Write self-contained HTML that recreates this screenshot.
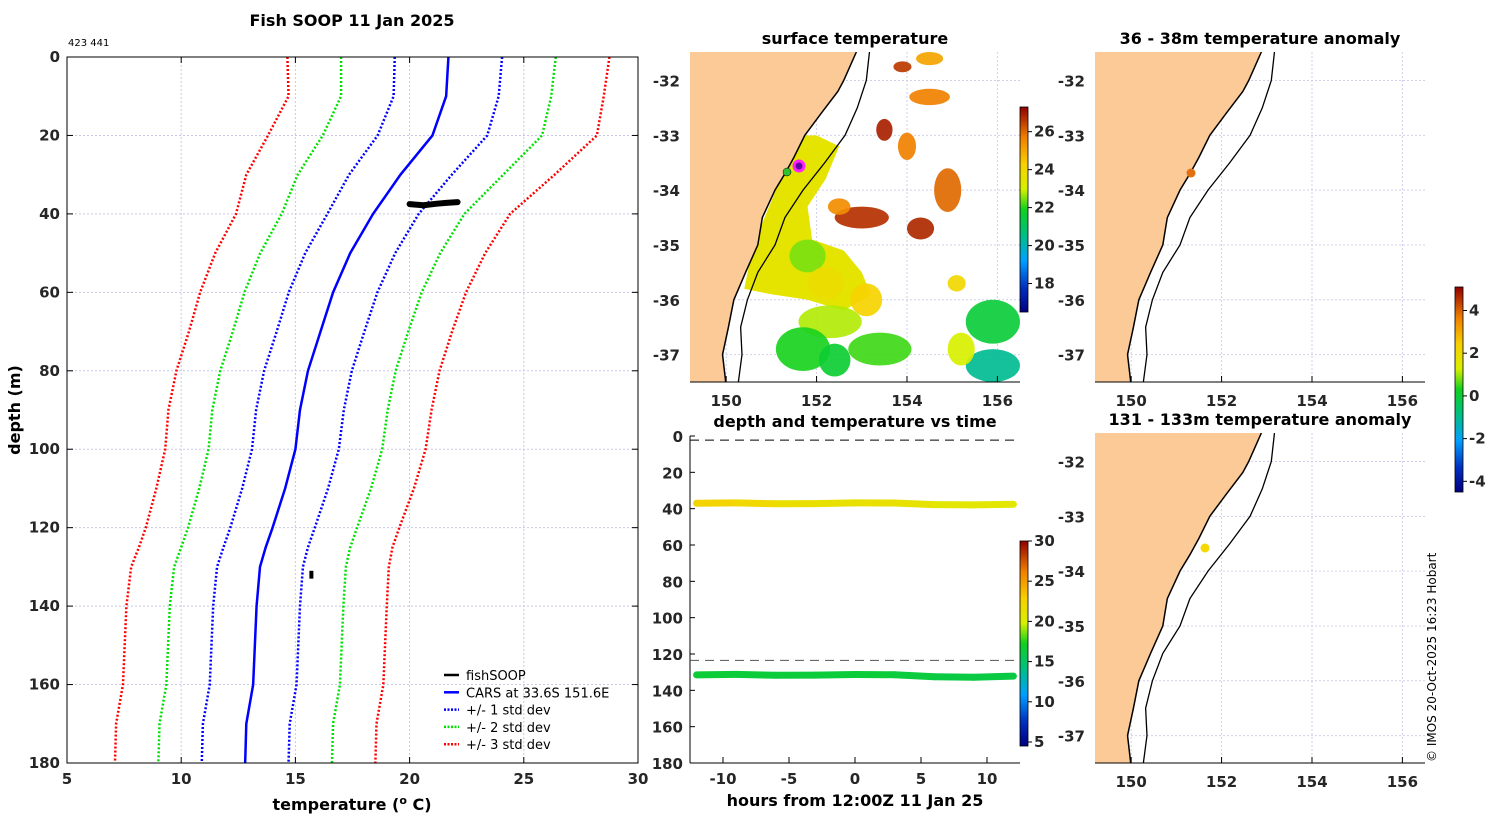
<!DOCTYPE html>
<html><head><meta charset="utf-8"><style>
body{margin:0;background:#fff;}
svg{display:block;font-family:"DejaVu Sans","Liberation Sans",sans-serif;}
.tk{font-size:15px;font-weight:bold;fill:#262626;}
.tt{font-size:16px;font-weight:bold;fill:#000;}
.lg{font-size:13px;fill:#000;}
</style></head><body>
<svg id="fig" width="1500" height="820" viewBox="0 0 1500 820">
<defs>
<linearGradient id="jet" x1="0" y1="1" x2="0" y2="0">
<stop offset="0" stop-color="#00007f"/><stop offset="0.12" stop-color="#0030c0"/><stop offset="0.25" stop-color="#00a0ff"/>
<stop offset="0.38" stop-color="#00c080"/><stop offset="0.5" stop-color="#10d020"/><stop offset="0.6" stop-color="#d8f000"/>
<stop offset="0.72" stop-color="#f8d000"/><stop offset="0.85" stop-color="#f08000"/><stop offset="1" stop-color="#900000"/>
</linearGradient>
<clipPath id="c1"><rect x="690" y="52" width="330" height="330"/></clipPath>
<clipPath id="c2"><rect x="1095" y="52" width="330" height="330"/></clipPath>
<clipPath id="c3"><rect x="1095" y="433" width="330" height="330"/></clipPath>
</defs>
<text class="tt" x="352" y="26" text-anchor="middle">Fish SOOP 11 Jan 2025</text>
<text x="68" y="46" font-size="10">423 441</text>
<g id="prof"></g>
<g id="maps"></g>
<g id="dt"></g>
<text x="0" y="0" font-size="12" transform="translate(1436,762) rotate(-90)">© IMOS 20-Oct-2025 16:23 Hobart</text>
</svg>
<script>
const depths=[0,10,20,30,40,50,60,70,80,90,100,110,120,125,130,140,160,170,180];
const carsMean=[21.7,21.6,21.0,19.6,18.4,17.4,16.65,16.1,15.55,15.2,15.0,14.55,14.0,13.7,13.45,13.3,13.15,12.85,12.8];
const carsStd=[2.35,2.3,2.4,2.25,2.0,1.97,1.94,1.92,1.92,1.92,1.9,1.88,1.85,1.85,1.88,1.9,1.9,1.9,1.9];
const fishTemp=[20.0,20.6,21.2,21.6,22.1];
const fishDepth=[37.5,37.8,37.4,37.2,37.0];
const fish2Temp=[15.7,15.7];
const fish2Depth=[131,133];
const tempTicks=[5,10,15,20,25,30];
const depthTicks=[0,20,40,60,80,100,120,140,160,180];
const hourTicks=[-10,-5,0,5,10];
const hours=[-12,-9,-6,-3,0,3,6,9,12];
const shallowDepth=[37,36.8,37.3,37.2,36.8,36.9,37.8,37.9,37.6];
const shallowTemp=[22.5,22.4,21.8,21.3,21.4,21.5,20.9,20.7,20.8];
const deepDepth=[131.5,131.2,131.7,131.6,131.3,131.4,132.5,132.8,132.2];
const deepTemp=[16.5,16.5,16.4,16.4,16.5,16.4,16.2,16.1,16.2];
const lonTicks=[150,152,154,156];
const latTicks=[-32,-33,-34,-35,-36,-37];
const coastLat=[-31.48,-32.0,-32.2,-32.6,-33.0,-33.4,-33.7,-34.0,-34.5,-35.0,-35.5,-36.0,-36.5,-37.0,-37.5];
const coastLon=[152.88,152.6,152.47,152.1,151.74,151.5,151.3,151.08,150.8,150.7,150.43,150.17,150.05,149.92,149.99];
const isoLat=[-31.48,-32.0,-32.5,-33.0,-33.5,-34.0,-34.5,-35.0,-35.5,-36.0,-36.5,-37.0,-37.5];
const isoLon=[153.17,153.1,152.9,152.63,152.18,151.7,151.3,151.08,150.7,150.47,150.32,150.35,150.27];
const NS='http://www.w3.org/2000/svg';
function mk(p,t,a,txt){const e=document.createElementNS(NS,t);for(const k in a)e.setAttribute(k,a[k]);if(txt!==undefined)e.textContent=txt;p.appendChild(e);return e;}
function jet(v,lo,hi){const t=Math.max(0,Math.min(1,(v-lo)/(hi-lo)));const s=[[0,0,0,127],[.12,0,48,192],[.25,0,160,255],[.38,0,192,128],[.5,16,208,32],[.6,216,240,0],[.72,248,208,0],[.85,240,128,0],[1,144,0,0]];for(let i=1;i<s.length;i++){if(t<=s[i][0]){const f=(t-s[i-1][0])/(s[i][0]-s[i-1][0]);return 'rgb('+[1,2,3].map(j=>Math.round(s[i-1][j]+f*(s[i][j]-s[i-1][j]))).join(',')+')';}}return 'rgb(144,0,0)';}
// ---- profile plot
const P=document.getElementById('prof');
const px=t=>67+(t-5)*(571/25), py=d=>57+d*(706/180);
for(const t of tempTicks){const g=mk(P,'line',{x1:px(t),x2:px(t),y1:57,y2:763,stroke:'#c8c8e8','stroke-dasharray':'2,2','stroke-width':1});}
for(const d of depthTicks){const g=mk(P,'line',{x1:67,x2:638,y1:py(d),y2:py(d),stroke:'#c8c8e8','stroke-dasharray':'2,2','stroke-width':1});}
const bands=[[-3,'#ff0000','minus-3-std'],[-2,'#00e000','minus-2-std'],[-1,'#0000ff','minus-1-std'],[1,'#0000ff','plus-1-std'],[2,'#00e000','plus-2-std'],[3,'#ff0000','plus-3-std']];
for(const [k,c,n] of bands){const l=mk(P,'polyline',{points:depths.map((d,i)=>px(carsMean[i]+k*carsStd[i])+','+py(d)).join(' '),fill:'none',stroke:c,'stroke-width':2.5,'stroke-dasharray':'2,2'});}
const ml=mk(P,'polyline',{points:depths.map((d,i)=>px(carsMean[i])+','+py(d)).join(' '),fill:'none',stroke:'#0000ff','stroke-width':2.5});

const f1=mk(P,'polyline',{points:fishTemp.map((t,i)=>px(t)+','+py(fishDepth[i])).join(' '),fill:'none',stroke:'#000','stroke-width':6,'stroke-linecap':'round','stroke-linejoin':'round'});

const f2=mk(P,'polyline',{points:fish2Temp.map((t,i)=>px(t)+','+py(fish2Depth[i])).join(' '),fill:'none',stroke:'#000','stroke-width':4});

const fr=mk(P,'rect',{x:67,y:57,width:571,height:706,fill:'none',stroke:'#000','stroke-width':1});

for(const t of tempTicks){mk(P,'line',{x1:px(t),x2:px(t),y1:763,y2:757,stroke:'#000'});mk(P,'line',{x1:px(t),x2:px(t),y1:57,y2:63,stroke:'#000'});const l=mk(P,'text',{x:px(t),y:784,class:'tk','text-anchor':'middle'},t);}
for(const d of depthTicks){mk(P,'line',{x1:67,x2:73,y1:py(d),y2:py(d),stroke:'#000'});mk(P,'line',{x1:638,x2:632,y1:py(d),y2:py(d),stroke:'#000'});const l=mk(P,'text',{x:60,y:py(d)+5,class:'tk','text-anchor':'end'},d);}
const xt=mk(P,'text',{x:352,y:810,class:'tt','text-anchor':'middle'});xt.innerHTML='temperature (<tspan font-size="11" dy="-6">o</tspan><tspan dy="6"> C)</tspan>';

const yt=mk(P,'text',{class:'tt','text-anchor':'middle',transform:'translate(20,410) rotate(-90)'},'depth (m)');

const leg=[['fishSOOP','#000',''],['CARS at 33.6S 151.6E','#0000ff',''],['+/- 1 std dev','#0000ff','2,1.5'],['+/- 2 std dev','#00e000','2,1.5'],['+/- 3 std dev','#ff0000','2,1.5']];
leg.forEach((e,i)=>{const y=675+i*17.3;const g=mk(P,'g',{});
mk(g,'line',{x1:444,x2:459,y1:y,y2:y,stroke:e[1],'stroke-width':2.5,'stroke-dasharray':e[2]});mk(g,'text',{x:466,y:y+5,class:'lg'},e[0]);});
// ---- maps
const M=document.getElementById('maps');
function map(x0,y0,title,clip,name){
const g=mk(M,'g',{});
const lx=l=>x0+(l-149.2)*(330/7.3), ly=a=>y0+(-31.48-a)*(330/6.02);
for(const l of lonTicks){mk(g,'line',{x1:lx(l),x2:lx(l),y1:y0,y2:y0+330,stroke:'#d0d0ea','stroke-dasharray':'2,2'});}
for(const a of latTicks){mk(g,'line',{x1:x0,x2:x0+330,y1:ly(a),y2:ly(a),stroke:'#d0d0ea','stroke-dasharray':'2,2'});}
const cg=mk(g,'g',{'clip-path':'url(#'+clip+')'});
g._cg=cg;g._lx=lx;g._ly=ly;
g._land=function(){
let pts=coastLon.map((l,i)=>lx(l)+','+ly(coastLat[i]));
const land=mk(cg,'polygon',{points:x0+','+(y0-2)+' '+pts.join(' ')+' '+x0+','+(y0+332),fill:'#fbca96'});

mk(cg,'polyline',{points:pts.join(' '),fill:'none',stroke:'#000','stroke-width':1.5});
const iso=mk(cg,'polyline',{points:isoLon.map((l,i)=>lx(l)+','+ly(isoLat[i])).join(' '),fill:'none',stroke:'#000','stroke-width':1.3});

mk(g,'line',{x1:x0,x2:x0+330,y1:y0+330,y2:y0+330,stroke:'#000'});
for(const l of lonTicks){mk(g,'line',{x1:lx(l),x2:lx(l),y1:y0+330,y2:y0+324,stroke:'#000'});const t=mk(g,'text',{x:lx(l),y:y0+354,class:'tk','text-anchor':'middle'},l);}
for(const a of latTicks){const t=mk(g,'text',{x:x0-10,y:ly(a)+6,class:'tk','text-anchor':'end'},a);}
const tt=mk(g,'text',{x:x0+165,y:y0-8,class:'tt','text-anchor':'middle'},title);
};
return g;}
const m1=map(690,52,'surface temperature','c1','sst-map');
// coastal warm band polygon [lon,lat]
const bandLon=[151.4,152.0,152.5,152.2,151.8,151.9,152.6,153.0,153.2,152.6,151.8,151.0,150.4,150.6,151.0,151.3];
const bandLat=[-33.0,-33.0,-33.2,-33.8,-34.3,-34.9,-35.1,-35.5,-35.9,-36.2,-36.0,-35.9,-35.8,-35.0,-34.2,-33.6];
mk(m1._cg,'polygon',{points:bandLon.map((l,i)=>m1._lx(l)+','+m1._ly(bandLat[i])).join(' '),fill:jet(23.3,16.5,27)});
// SST blobs [lon,lat,rx(deg),ry(deg),temp]
const blobs=[[151.8,-35.2,0.4,0.3,22.3],[152.2,-35.7,0.4,0.3,23.6],[153.1,-36.0,0.35,0.3,24.0],[152.3,-36.4,0.7,0.3,22.6],[151.7,-36.9,0.6,0.4,21.8],[152.4,-37.1,0.35,0.3,21.5],[153.4,-36.9,0.7,0.3,22.0],[155.9,-36.4,0.6,0.4,21.4],[155.9,-37.2,0.6,0.3,20.3],[155.2,-36.9,0.3,0.3,22.8],[153.0,-34.5,0.6,0.2,26.4],[152.5,-34.3,0.25,0.15,25.2],[154.9,-34.0,0.3,0.4,25.7],[153.5,-32.9,0.18,0.2,26.6],[154.5,-32.3,0.45,0.15,25.4],[154.0,-33.2,0.2,0.25,25.4],[153.9,-31.75,0.2,0.1,26.3],[154.5,-31.6,0.3,0.12,24.8],[155.1,-35.7,0.2,0.15,23.8],[154.3,-34.7,0.3,0.2,26.5]];
for(const b of blobs){const e=mk(m1._cg,'ellipse',{cx:m1._lx(b[0]),cy:m1._ly(b[1]),rx:b[2]*45.2,ry:b[3]*54.8,fill:jet(b[4],16.5,27),opacity:0.92});}
m1._land();
mk(m1,'circle',{cx:787,cy:172,r:4,fill:'#30c030',stroke:'#000','stroke-width':0.5});
const d1=mk(m1,'circle',{cx:799,cy:166,r:5,fill:'#6000a0',stroke:'#ff20ff','stroke-width':3});
const m2=map(1095,52,'36 - 38m temperature anomaly','c2','anomaly-map-36m');m2._land();
const d2=mk(m2,'circle',{cx:1191,cy:173,r:4.5,fill:'#e07010'});
const m3=map(1095,433,'131 - 133m temperature anomaly','c3','anomaly-map-131m');m3._land();
const d3=mk(m3,'circle',{cx:1205,cy:548,r:4.5,fill:'#f4d800'});
// colorbars
function cbar(x,y,h,ticks,lo,hi,name){const g=mk(M,'g',{});
mk(g,'rect',{x:x,y:y,width:8,height:h,fill:'url(#jet)',stroke:'#000','stroke-width':0.8});
for(const t of ticks){const yy=y+h-(t-lo)/(hi-lo)*h;mk(g,'line',{x1:x+8,x2:x+12,y1:yy,y2:yy,stroke:'#000'});mk(g,'text',{x:x+14,y:yy+5,class:'tk','font-size':'13'},t);}}
cbar(1020,107,205,[18,20,22,24,26],16.5,27.3,'sst-colorbar');
cbar(1455,287,205,[-4,-2,0,2,4],-4.5,5.1,'anomaly-colorbar');
cbar(1020,541,205,[5,10,15,20,25,30],4.5,30,'temperature-colorbar');
// ---- depth-time
const D=document.getElementById('dt');
const hx=h=>855+h*13.2, dy=d=>436+d*(327/180);
mk(D,'line',{x1:690,x2:690,y1:436,y2:763,stroke:'#000'});mk(D,'line',{x1:690,x2:1020,y1:763,y2:763,stroke:'#000'});
for(const d of depthTicks){mk(D,'line',{x1:690,x2:695,y1:dy(d),y2:dy(d),stroke:'#000'});const t=mk(D,'text',{x:683,y:dy(d)+6,class:'tk','text-anchor':'end'},d);}
for(const h of hourTicks){mk(D,'line',{x1:hx(h),x2:hx(h),y1:763,y2:757,stroke:'#000'});const t=mk(D,'text',{x:hx(h),y:784,class:'tk','text-anchor':'middle'},h);}
const xl=mk(D,'text',{x:855,y:806,class:'tt','text-anchor':'middle'},'hours from 12:00Z 11 Jan 25');
const tl=mk(D,'text',{x:855,y:427,class:'tt','text-anchor':'middle'},'depth and temperature vs time');
const s1=mk(D,'line',{x1:690,x2:1020,y1:dy(2.3),y2:dy(2.3),stroke:'#000','stroke-dasharray':'9,6'});
const s2=mk(D,'line',{x1:690,x2:1020,y1:dy(123.5),y2:dy(123.5),stroke:'#555','stroke-dasharray':'9,6'});
function track(dep,tem,name){for(let i=0;i<hours.length-1;i++){const l=mk(D,'line',{x1:hx(hours[i]),y1:dy(dep[i]),x2:hx(hours[i+1]),y2:dy(dep[i+1]),stroke:jet((tem[i]+tem[i+1])/2,4.5,30),'stroke-width':7,'stroke-linecap':'round'});}}
track(shallowDepth,shallowTemp,'shallow-sensor-track');
track(deepDepth,deepTemp,'deep-sensor-track');
</script>
</body></html>
